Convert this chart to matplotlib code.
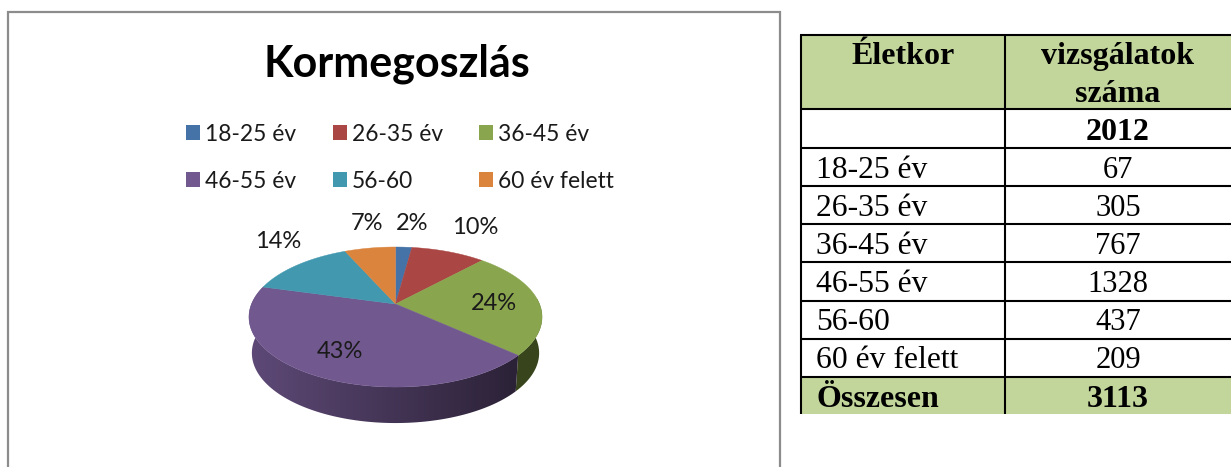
import numpy as np
import matplotlib.pyplot as plt
from matplotlib.patches import Rectangle, Polygon
from matplotlib.colors import to_rgb

plt.rcParams["font.family"] = ["Lato", "DejaVu Sans"]

categories = ["18-25 év", "26-35 év", "36-45 év", "46-55 év", "56-60", "60 év felett"]
counts = [67, 305, 767, 1328, 437, 209]
pct_labels = ["2%", "10%", "24%", "43%", "14%", "7%"]
colors = ["#4572A7", "#AA4643", "#89A54E", "#71588F", "#4198AF", "#DB843D"]
title = "Kormegoszlás"

table_head = ["Életkor", "vizsgálatok", "száma"]
table_year = "2012"
table_total_label = "Összesen"
table_total = 3113

# pie projection, in pixels
CX, CY = 395.5, 304
PERSP = 0.186
RX, RY_TOP = 144, 67.6
DEPTH, WALL_SCALE = 36, 0.98


def project(theta):
    # theta in degrees, clockwise from the top of the pie
    t = np.radians(theta)
    u, v = np.sin(t), np.cos(t)
    d = 1 + PERSP * v
    return CX + RX * u / d, CY - RY_TOP * v / d


def wall(theta):
    x, y = project(theta)
    return CX + (x - CX) * WALL_SCALE, y + DEPTH


fig = plt.figure(figsize=(12.31, 4.67), dpi=100)
ax = fig.add_axes([0, 0, 1, 1])

# chart frame, runs off the bottom of the image
ax.plot([8, 8, 780, 780], [470, 12, 12, 470], color="#8c8c8c", lw=1.6, solid_joinstyle="miter")

ax.text(397, 76.5, title, fontsize=31, fontweight="bold", ha="center", va="baseline", color="black")

# legend
leg_x = [186, 333, 479]
leg_y = [132.5, 179.5]
for i, (cat, col) in enumerate(zip(categories, colors)):
    x, y = leg_x[i % 3], leg_y[i // 3]
    ax.add_patch(Rectangle((x, y - 7.5), 14, 15, facecolor=col, edgecolor="none"))
    ax.text(x + 19, y, cat, fontsize=16.4, ha="left", va="center_baseline", color="#1a1a1a")

# pie, edges[i] to edges[i + 1] is slice i
edges = np.cumsum([0] + counts) / sum(counts) * 360

# side walls: flat dark green, then purple with a gradient getting darker to the right
th = np.linspace(85, edges[3], 40)
xa, ya = project(th)
xb, yb = wall(th)
ax.fill(np.r_[xa, xb[::-1]], np.r_[ya, yb[::-1]], color="#37441c", lw=0)

th = np.linspace(edges[3], 285, 120)
xa, ya = project(th)
xb, yb = wall(th)
clip = Polygon(np.c_[np.r_[xa, xb[::-1]], np.r_[ya, yb[::-1]]], closed=True, facecolor="none", edgecolor="none")
ax.add_patch(clip)
shade = np.linspace(0.84, 0.38, 256)
grad = shade[None, :, None] * np.array(to_rgb(colors[3]))[None, None, :]
img = ax.imshow(grad, extent=(245, 520, 430, 270), aspect="auto", interpolation="bilinear", zorder=1.5)
img.set_clip_path(clip)

# top face
for i, col in enumerate(colors):
    th = np.linspace(edges[i], edges[i + 1], 80)
    x, y = project(th)
    ax.fill(np.r_[CX, x], np.r_[CY, y], facecolor=col, edgecolor=col, lw=0.3, zorder=2)

# percent labels
pct_pos = [(412, 223), (475, 227), (494, 304), (340, 352), (278, 242), (367, 223)]
for lab, (x, y) in zip(pct_labels, pct_pos):
    ax.text(x, y, lab, fontsize=17, ha="center", va="center", color="#1a1a1a", zorder=3)

# table
serif = ["Liberation Serif", "DejaVu Serif"]
T_L, T_M, T_R = 801, 1005, 1233
row_y = [35, 109, 147.5, 185.5, 223.5, 262, 300.5, 338.5, 376.5, 414]
FILL = "#C2D69B"
ax.add_patch(Rectangle((T_L, row_y[0]), T_R - T_L, row_y[1] - row_y[0], facecolor=FILL, edgecolor="none"))
ax.add_patch(Rectangle((T_L, row_y[8]), T_R - T_L, row_y[9] - row_y[8], facecolor=FILL, edgecolor="none"))
for y in row_y[:-1]:
    ax.plot([T_L - 1, T_R], [y, y], color="black", lw=1.5, solid_capstyle="butt")
for x in [T_L, T_M]:
    ax.plot([x, x], [row_y[0], row_y[-1]], color="black", lw=1.5, solid_capstyle="butt")

X_L, X_C = 816, 1118
FS, FS_NUM, FS_BOLD = 22.8, 22, 23
ax.text(903, 64, table_head[0], family=serif, fontsize=FS_BOLD, fontweight="bold", ha="center", va="baseline")
ax.text(X_C, 64, table_head[1], family=serif, fontsize=FS_BOLD, fontweight="bold", ha="center", va="baseline")
ax.text(X_C, 102, table_head[2], family=serif, fontsize=FS_BOLD, fontweight="bold", ha="center", va="baseline")
ax.text(X_C, 140, table_year, family=serif, fontsize=FS_BOLD, fontweight="bold", ha="center", va="baseline")

baselines = [178, 216, 253.5, 292, 330, 368]
for cat, n, y in zip(categories, counts, baselines):
    ax.text(X_L, y, cat, family=serif, fontsize=FS, ha="left", va="baseline")
    ax.text(X_C, y, str(n), family=serif, fontsize=FS_NUM, ha="center", va="baseline")
ax.text(X_L, 407, table_total_label, family=serif, fontsize=FS_BOLD, fontweight="bold", ha="left", va="baseline")
ax.text(X_C, 407, str(table_total), family=serif, fontsize=FS_BOLD, fontweight="bold", ha="center", va="baseline")

ax.set_xlim(0, 1231)
ax.set_ylim(467, 0)
ax.axis("off")

fig.savefig("out.png", dpi=100, facecolor="white")
